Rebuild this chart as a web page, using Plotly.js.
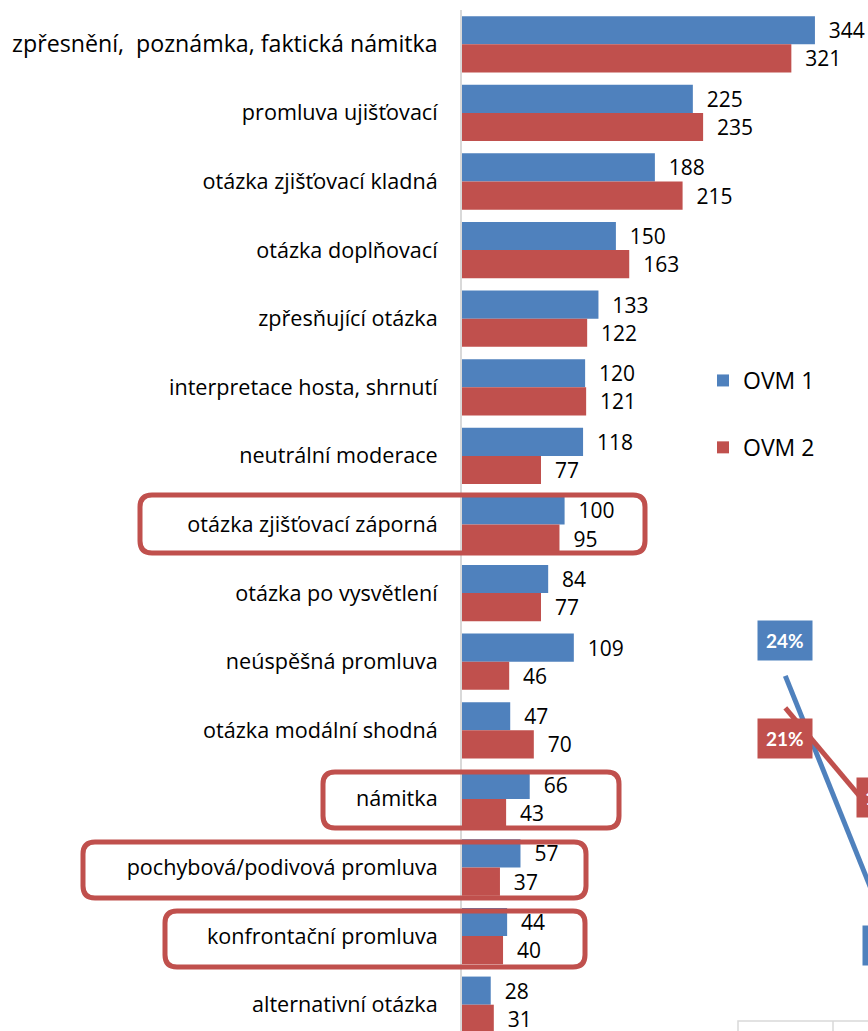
<!DOCTYPE html>
<html>
<head>
<meta charset="utf-8">
<script src="https://cdn.plot.ly/plotly-3.0.1.min.js"></script>
<style>
  html, body { margin: 0; padding: 0; overflow: hidden; background: #fff; }
</style>
</head>
<body>
<div id="chart"></div>
<script>
const categories = [
  "zpřesnění,\u00a0 poznámka, faktická námitka",
  "promluva ujišťovací",
  "otázka zjišťovací kladná",
  "otázka doplňovací",
  "zpřesňující otázka",
  "interpretace hosta, shrnutí",
  "neutrální moderace",
  "otázka zjišťovací záporná",
  "otázka po vysvětlení",
  "neúspěšná promluva",
  "otázka modální shodná",
  "námitka",
  "pochybová/podivová promluva",
  "konfrontační promluva",
  "alternativní otázka",
];
const ovm1 = [344, 225, 188, 150, 133, 120, 118, 100, 84, 109, 47, 66, 57, 44, 28];
const ovm2 = [321, 235, 215, 163, 122, 121, 77, 95, 77, 46, 70, 43, 37, 40, 31];

// partly visible line chart on the right edge
const lineX = [1, 2];
const share1 = [24, 1];
const share2 = [21, 10];
const shareLabelShift1 = [35, -24];
const shareLabelShift2 = [-31, 28];

const COLORS = { ovm1: "#4f81bd", ovm2: "#c0504d", axis: "#d9d9d9" };
const FONT = "'Open Sans', Lato, sans-serif";

// plot area in pixels; the page is wider than the window, the right part is cut off
const PX = { left: 462, right: 940, top: 10, bottom: 1039 };
const toPaperX = (x) => (x - PX.left) / (PX.right - PX.left);
const toPaperY = (y) => (PX.bottom - y) / (PX.bottom - PX.top);

function roundRect(x0, y0, x1, y1, r) {
  const p = (x, y) => `${toPaperX(x)},${toPaperY(y)}`;
  return `M${p(x0 + r, y0)} L${p(x1 - r, y0)} Q${p(x1, y0)} ${p(x1, y0 + r)} ` +
    `L${p(x1, y1 - r)} Q${p(x1, y1)} ${p(x1 - r, y1)} L${p(x0 + r, y1)} ` +
    `Q${p(x0, y1)} ${p(x0, y1 - r)} L${p(x0, y0 + r)} Q${p(x0, y0)} ${p(x0 + r, y0)} Z`;
}

const highlightBoxes = [
  [140, 495, 645, 553],
  [323, 772, 619, 828],
  [83, 842, 586, 898],
  [165, 911, 585, 967],
];

// the first label is set a little larger in the original
const tickText = categories.map((c, i) =>
  i === 0 ? `<span style="font-size:23.2px">${c}</span>` : c);

const barCommon = {
  type: "bar",
  orientation: "h",
  y: categories,
  texttemplate: "\u00a0\u00a0%{x}",
  textposition: "outside",
  constraintext: "none",
  cliponaxis: false,
  textfont: { family: FONT, size: 21, color: "#000" },
  hoverinfo: "x+y",
};

const traces = [
  { ...barCommon, x: ovm1, name: "OVM 1", legendgroup: "a",
    marker: { color: COLORS.ovm1 } },
  { ...barCommon, x: ovm2, name: "OVM 2", legendgroup: "b",
    marker: { color: COLORS.ovm2 } },
  { type: "scatter", mode: "lines", x: lineX, y: share1, xaxis: "x2", yaxis: "y2",
    line: { color: COLORS.ovm1, width: 5 }, showlegend: false, hoverinfo: "skip" },
  { type: "scatter", mode: "lines", x: lineX, y: share2, xaxis: "x2", yaxis: "y2",
    line: { color: COLORS.ovm2, width: 5 }, showlegend: false, hoverinfo: "skip" },
];

const shareAnnotations = [];
[[share1, COLORS.ovm1, shareLabelShift1], [share2, COLORS.ovm2, shareLabelShift2]]
  .forEach(([vals, color, shifts]) => {
    vals.forEach((v, i) => {
      shareAnnotations.push({
        x: lineX[i], y: v, xref: "x2", yref: "y2",
        text: `<b>${v}%</b>`, showarrow: false, yshift: shifts[i],
        bgcolor: color, borderpad: 8,
        font: { family: "Lato, sans-serif", size: 19, color: "#fff" },
      });
    });
  });

const shapes = highlightBoxes.map(([x0, y0, x1, y1]) => ({
  type: "path", xref: "paper", yref: "paper", layer: "above",
  path: roundRect(x0, y0, x1, y1, 12),
  line: { color: COLORS.ovm2, width: 5 },
}));
// corner of a table peeking in at the bottom right
shapes.push({
  type: "path", xref: "paper", yref: "paper", layer: "above",
  path: `M${toPaperX(738)},${toPaperY(1045)} L${toPaperX(738)},${toPaperY(1021)} ` +
    `L${toPaperX(940)},${toPaperY(1021)} M${toPaperX(833)},${toPaperY(1021)} L${toPaperX(833)},${toPaperY(1045)}`,
  line: { color: COLORS.axis, width: 1.5 },
});

const layout = {
  width: PX.right,
  height: 1040,
  margin: { l: PX.left, r: 0, t: PX.top, b: 1040 - PX.bottom },
  paper_bgcolor: "#fff",
  plot_bgcolor: "#fff",
  font: { family: FONT, size: 21, color: "#000" },
  barmode: "group",
  bargap: 0.18,
  bargroupgap: 0,
  xaxis: { range: [0, (PX.right - PX.left) / 1.026], showgrid: false, zeroline: false,
           showticklabels: false, showline: false, fixedrange: true },
  yaxis: { type: "category", autorange: "reversed", showgrid: false,
           showline: true, linecolor: COLORS.axis, linewidth: 2,
           tickmode: "array", tickvals: categories, ticktext: tickText,
           ticks: "", ticklabelstandoff: 18,
           tickfont: { family: FONT, size: 21.6, color: "#000" } },
  xaxis2: { overlaying: "x", range: [-2.273, 2.566], visible: false },
  yaxis2: { overlaying: "y", range: [-10.03, 86.4], visible: false },
  showlegend: true,
  legend: {
    x: toPaperX(703), y: toPaperY(359), xanchor: "left", yanchor: "top",
    bgcolor: "rgba(0,0,0,0)", itemwidth: 30, tracegroupgap: 34,
    font: { family: FONT, size: 23, color: "#000" },
  },
  shapes,
  annotations: shareAnnotations,
};

Plotly.newPlot("chart", traces, layout, { displayModeBar: false, responsive: false });
</script>
</body>
</html>
